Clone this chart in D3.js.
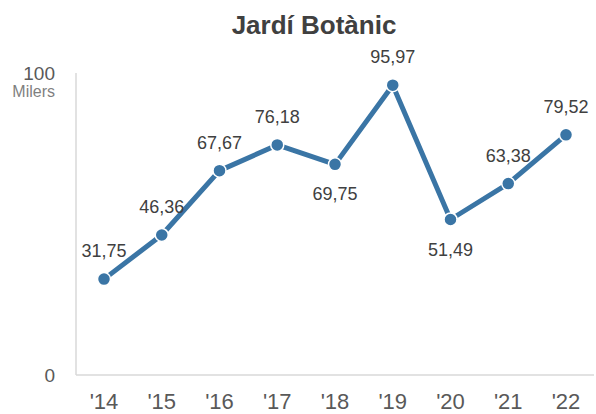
<!DOCTYPE html>
<html lang="ca">
<head>
<meta charset="UTF-8">
<title>Jardí Botànic</title>
<style>
    body { margin: 0; background: #fff; }
    text { font-family: "Liberation Sans", Arial, sans-serif; }
</style>
</head>
<body>
<script src="https://d3js.org/d3.v7.min.js"></script>
<script>
    // Data
    const years = ["'14", "'15", "'16", "'17", "'18", "'19", "'20", "'21", "'22"];
    const visitors = [31.75, 46.36, 67.67, 76.18, 69.75, 95.97, 51.49, 63.38, 79.52];
    // label placement: true = above the point, false = below
    const labelAbove = [true, true, true, true, false, true, false, true, true];
    const yTicks = [0, 100];

    const width = 596,
        height = 414,
        lineColor = "#3a75a5";

    const svg = d3.select("body").append("svg")
        .attr("width", width)
        .attr("height", height);

    const x = d3.scalePoint()
        .domain(years)
        .range([104, 566]);

    const y = d3.scaleLinear()
        .domain([0, 100])
        .range([375, 73]);

    // axis lines
    svg.append("line")
        .attr("x1", 76).attr("x2", 594)
        .attr("y1", y(0)).attr("y2", y(0))
        .attr("stroke", "#d9d9d9")
        .attr("stroke-width", 1.5);
    svg.append("line")
        .attr("x1", 76).attr("x2", 76)
        .attr("y1", y(100)).attr("y2", y(0))
        .attr("stroke", "#d9d9d9")
        .attr("stroke-width", 1.5);

    // y tick labels
    svg.selectAll(".ytick")
        .data(yTicks)
        .enter().append("text")
        .attr("class", "ytick")
        .attr("x", 55)
        .attr("y", d => y(d) + 7)
        .attr("text-anchor", "end")
        .style("font-size", "19px")
        .attr("fill", "#595959")
        .text(d => d);

    svg.append("text")
        .attr("x", 55)
        .attr("y", 97)
        .attr("text-anchor", "end")
        .style("font-size", "16px")
        .attr("fill", "#7f7f7f")
        .text("Milers");

    // x tick labels
    svg.selectAll(".xtick")
        .data(years)
        .enter().append("text")
        .attr("class", "xtick")
        .attr("x", d => x(d))
        .attr("y", 409)
        .attr("text-anchor", "middle")
        .style("font-size", "22px")
        .attr("fill", "#595959")
        .text(d => d);

    // line
    const line = d3.line()
        .x((d, i) => x(years[i]))
        .y(d => y(d));

    svg.append("path")
        .datum(visitors)
        .attr("d", line)
        .attr("fill", "none")
        .attr("stroke", lineColor)
        .attr("stroke-width", 5)
        .attr("stroke-linejoin", "round");

    svg.selectAll(".dot")
        .data(visitors)
        .enter().append("circle")
        .attr("class", "dot")
        .attr("cx", (d, i) => x(years[i]))
        .attr("cy", d => y(d))
        .attr("r", 6.5)
        .attr("fill", lineColor)
        .attr("stroke", "#fff")
        .attr("stroke-width", 1.5);

    // data labels
    svg.selectAll(".lbl")
        .data(visitors)
        .enter().append("text")
        .attr("class", "lbl")
        .attr("x", (d, i) => x(years[i]))
        .attr("y", (d, i) => labelAbove[i] ? y(d) - 22 : y(d) + 36)
        .attr("text-anchor", "middle")
        .style("font-size", "18px")
        .attr("fill", "#404040")
        .text(d => d.toFixed(2).replace(".", ","));

    // title
    svg.append("text")
        .attr("x", 314)
        .attr("y", 34)
        .attr("text-anchor", "middle")
        .style("font-size", "26px")
        .style("font-weight", "bold")
        .attr("fill", "#404040")
        .text("Jardí Botànic");
</script>
</body>
</html>
